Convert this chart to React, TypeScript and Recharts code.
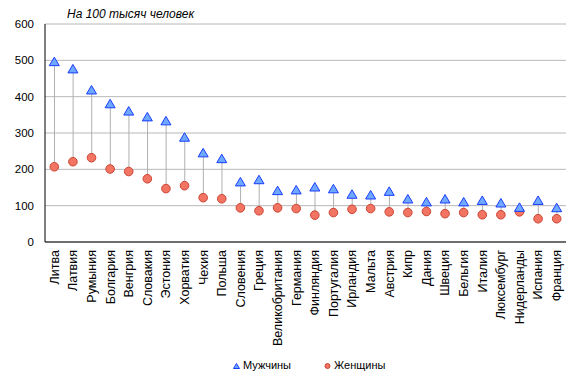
import React from 'react';
import {
  ComposedChart,
  Bar,
  Line,
  XAxis,
  YAxis,
  CartesianGrid,
  Legend,
} from 'recharts';

const countries = [
  'Литва', 'Латвия', 'Румыния', 'Болгария', 'Венгрия', 'Словакия', 'Эстония',
  'Хорватия', 'Чехия', 'Польша', 'Словения', 'Греция', 'Великобритания', 'Германия',
  'Финляндия', 'Португалия', 'Ирландия', 'Мальта', 'Австрия', 'Кипр', 'Дания',
  'Швеция', 'Бельгия', 'Италия', 'Люксембург', 'Нидерланды', 'Испания', 'Франция',
];

const men = [
  495, 475, 417, 379, 359, 343, 332, 287, 244, 228, 164, 170, 140, 142,
  150, 145, 130, 128, 138, 117, 109, 117, 109, 113, 106, 94, 113, 93,
];

const women = [
  207, 221, 232, 201, 194, 174, 147, 155, 122, 119, 94, 86, 94, 92,
  74, 81, 90, 92, 83, 81, 84, 78, 81, 75, 75, 83, 64, 64,
];

const yTicks = [0, 100, 200, 300, 400, 500, 600];

const data = countries.map((name, i) => ({
  name,
  men: men[i],
  women: women[i],
  span: [women[i], men[i]],
}));

const FONT = '"Liberation Sans", Arial, sans-serif';

const TriangleDot = (props: any) => {
  const { cx, cy, index } = props;
  if (cx == null || cy == null) return <g key={`t${index}`} />;
  return (
    <polygon
      key={`t${index}`}
      points={`${cx},${cy - 5} ${cx + 5},${cy + 3.5} ${cx - 5},${cy + 3.5}`}
      fill="#6fa8ff"
      stroke="#1a3cff"
      strokeWidth={1}
    />
  );
};

const CircleDot = (props: any) => {
  const { cx, cy, index } = props;
  if (cx == null || cy == null) return <g key={`c${index}`} />;
  return (
    <circle key={`c${index}`} cx={cx} cy={cy} r={4.3} fill="#f27462" stroke="#cc4433" strokeWidth={1} />
  );
};

const CountryTick = (props: any) => {
  const { x, y, payload } = props;
  return (
    <text
      x={x}
      y={y}
      dy="0.35em"
      textAnchor="end"
      transform={`rotate(-90, ${x}, ${y})`}
      fontSize={12.5}
      fill="#000"
      fontFamily={FONT}
    >
      {payload.value}
    </text>
  );
};

const LegendBox = () => (
  <div style={{ position: 'relative', height: 26, fontFamily: FONT, fontSize: 11, color: '#000' }}>
    <svg width={8} height={8} style={{ position: 'absolute', left: 233, top: 10 }}>
      <polygon points="3.5,1.5 6.5,6.5 0.5,6.5" fill="#6fa8ff" stroke="#1a3cff" strokeWidth={1} />
    </svg>
    <span style={{ position: 'absolute', left: 243, top: 7 }}>Мужчины</span>
    <svg width={8} height={8} style={{ position: 'absolute', left: 324, top: 10 }}>
      <circle cx={3.5} cy={4} r={2.5} fill="#f27462" stroke="#cc4433" strokeWidth={1} />
    </svg>
    <span style={{ position: 'absolute', left: 334, top: 7 }}>Женщины</span>
  </div>
);

export default function App() {
  return (
    <div style={{ position: 'relative', width: 580, height: 388, margin: -8, fontFamily: FONT }}>
      <div
        style={{
          position: 'absolute',
          left: 67,
          top: 6,
          fontSize: 12,
          lineHeight: '16px',
          fontStyle: 'italic',
          color: '#000',
        }}
      >
        На 100 тысяч человек
      </div>
      <ComposedChart
        width={580}
        height={388}
        data={data}
        margin={{ top: 24, right: 14, left: 0, bottom: 10 }}
      >
        <CartesianGrid vertical={false} stroke="#b8b8b8" />
        <XAxis
          dataKey="name"
          interval={0}
          height={110}
          tickSize={0}
          tickMargin={8}
          tick={<CountryTick />}
          axisLine={{ stroke: '#000' }}
        />
        <XAxis xAxisId="top" dataKey="name" orientation="top" height={0} tick={false} tickLine={false} axisLine={{ stroke: '#888' }} />
        <YAxis
          domain={[0, 600]}
          ticks={yTicks}
          width={45}
          tickSize={0}
          tickMargin={11}
          tick={{ fontSize: 11.5, fill: '#000', fontFamily: FONT }}
          axisLine={{ stroke: '#000' }}
        />
        <YAxis yAxisId="right" orientation="right" width={0} domain={[0, 600]} tick={false} tickLine={false} axisLine={{ stroke: '#888' }} />
        <Legend verticalAlign="bottom" height={26} content={<LegendBox />} />
        <Bar dataKey="span" barSize={1} fill="#b0b0b0" isAnimationActive={false} legendType="none" />
        <Line dataKey="women" stroke="none" dot={CircleDot} activeDot={false} isAnimationActive={false} />
        <Line dataKey="men" stroke="none" dot={TriangleDot} activeDot={false} isAnimationActive={false} />
      </ComposedChart>
    </div>
  );
}
